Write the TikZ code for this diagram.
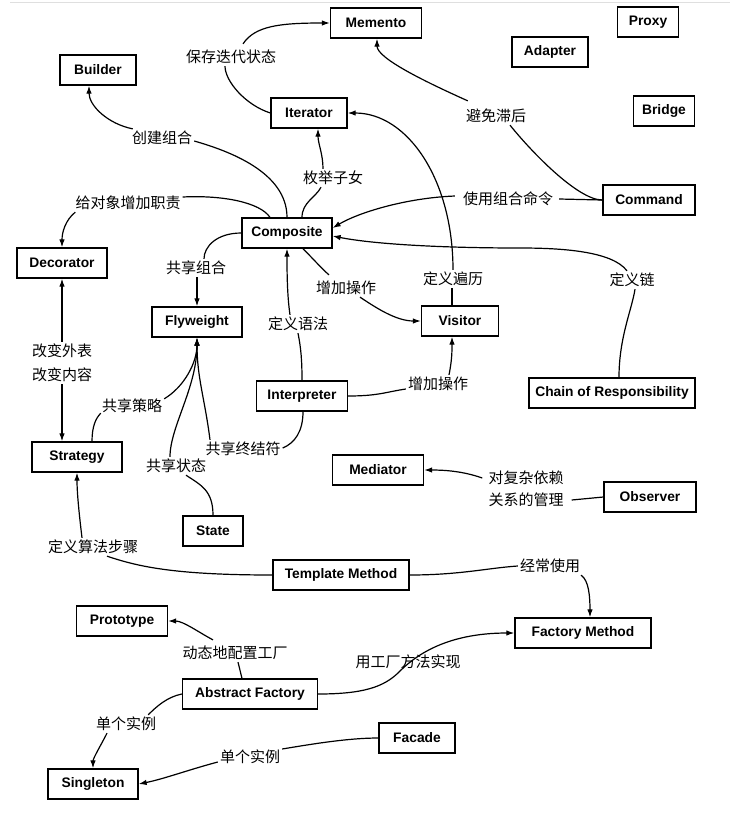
\documentclass[tikz,border=0pt]{standalone}
\usepackage{fontspec}
\setmainfont{Liberation Sans}
\newfontfamily\cjk{Noto Sans CJK SC}
\usetikzlibrary{arrows.meta}
\begin{document}
\begin{tikzpicture}[x=1pt,y=-1pt,
  box/.style={draw, line width=1.3pt, minimum height=30pt, inner sep=0pt, font=\fontsize{13.8}{16}\selectfont\bfseries},
  lab/.style={font=\cjk\fontsize{15}{18}\selectfont, inner sep=2pt},
  conn/.style={line width=1.2pt},
  arr/.style={conn, -{Latex[length=8pt,width=5.5pt]}},
  rarr/.style={conn, {Latex[length=8pt,width=5.5pt]}-},
]
\useasboundingbox (0,0) rectangle (744,820);
\fill[white] (0,0) rectangle (744,820);
\draw[gray!25, line width=1pt] (10,2) -- (730,2);

% boxes
\node[box, minimum width=91pt] (memento) at (376,23) {Memento};
\node[box, minimum width=61pt] (proxy) at (648,22) {Proxy};
\node[box, minimum width=76pt] (adapter) at (550,52) {Adapter};
\node[box, minimum width=76pt] (builder) at (98,70) {Builder};
\node[box, minimum width=76pt] (iterator) at (309,113) {Iterator};
\node[box, minimum width=61pt] (bridge) at (664,111) {Bridge};
\node[box, minimum width=92pt] (command) at (649,200) {Command};
\node[box, minimum width=90pt] (composite) at (287,233) {Composite};
\node[box, minimum width=90pt] (decorator) at (62,263) {Decorator};
\node[box, minimum width=90pt] (flyweight) at (197,322) {Flyweight};
\node[box, minimum width=77pt] (visitor) at (460,321) {Visitor};
\node[box, minimum width=91pt] (interp) at (302,396) {Interpreter};
\node[box, minimum width=166pt] (chain) at (612,393) {Chain of Responsibility};
\node[box, minimum width=90pt] (strategy) at (77,457) {Strategy};
\node[box, minimum width=91pt] (mediator) at (378,470) {Mediator};
\node[box, minimum width=92pt] (observer) at (650,497) {Observer};
\node[box, minimum width=60pt] (state) at (213,531) {State};
\node[box, minimum width=136pt] (template) at (341,575) {Template Method};
\node[box, minimum width=136pt] (factory) at (583,633) {Factory Method};
\node[box, minimum width=91pt] (prototype) at (122,621) {Prototype};
\node[box, minimum width=135pt] (abstract) at (250,694) {Abstract Factory};
\node[box, minimum width=76pt] (facade) at (417,738) {Facade};
\node[box, minimum width=90pt] (singleton) at (93,784) {Singleton};

% labels
\node[lab] (Lsave) at (231,57) {保存迭代状态};
\node[lab] (Lbuild) at (162,138) {创建组合};
\node[lab] (Lenum) at (333,178) {枚举子女};
\node[lab] (Ldeco) at (128,203) {给对象增加职责};
\node[lab] (Lshare) at (196,268) {共享组合};
\node[lab] (Lavoid) at (496,116) {避免滞后};
\node[lab] (Luse) at (508,199) {使用组合命令};
\node[lab] (Ltrav) at (453,279) {定义遍历};
\node[lab] (Lchain) at (632,280) {定义链};
\node[lab] (Ladd1) at (346,288) {增加操作};
\node[lab] (Lgram) at (298,324) {定义语法};
\node[lab] (Ladd2) at (438,384) {增加操作};
\node[lab] (Lchg1) at (62,351) {改变外表};
\node[lab] (Lchg2) at (62,375) {改变内容};
\node[lab] (Lstrat) at (132,406) {共享策略};
\node[lab] (Lterm) at (243,449) {共享终结符};
\node[lab] (Lstate) at (176,466) {共享状态};
\node[lab] (Lalg) at (93,547) {定义算法步骤};
\node[lab] (Lobs1) at (526,478) {对复杂依赖};
\node[lab] (Lobs2) at (526,500) {关系的管理};
\node[lab] (Loften) at (550,566) {经常使用};
\node[lab] (Lproto) at (235,653) {动态地配置工厂};
\node[lab] (Lfm) at (408,662) {用工厂方法实现};
\node[lab] (Lsing1) at (126,724) {单个实例};
\node[lab] (Lsing2) at (250,757) {单个实例};

\coordinate (chmid) at (520,248);
\coordinate (afmid) at (399,672);

% connectors
\draw[conn] (iterator.west) .. controls +(-25,-8) and +(0,15) .. ([xshift=-6pt]Lsave.south);
\draw[arr] ([xshift=12pt,yshift=4pt]Lsave.north) .. controls +(12,-18) and +(-50,0) .. (memento.west);

\draw[conn] (composite.north) .. controls +(0,-45) and +(35,10) .. ([yshift=-3pt]Lbuild.east);
\draw[arr] ([xshift=3pt]Lbuild.north west) .. controls +(-25,-5) and +(0,20) .. ([xshift=-9pt]builder.south);

\draw[conn] ([xshift=15pt]composite.north) .. controls +(0,-15) and +(-5,10) .. ([xshift=-12pt]Lenum.south);
\draw[arr] ([xshift=-10pt]Lenum.north) .. controls +(0,-15) and +(0,15) .. ([xshift=9pt]iterator.south);

\draw[conn] ([xshift=-17pt]composite.north) .. controls +(-10,-15) and +(40,-2) .. ([yshift=6pt]Ldeco.east);
\draw[arr] ([xshift=2pt]Ldeco.south west) .. controls +(-10,8) and +(0,-15) .. (decorator.north);

\draw[conn] (composite.west) .. controls +(-25,0) and +(0,-12) .. ([xshift=8pt]Lshare.north);
\draw[arr] ([xshift=1pt]Lshare.south) -- (flyweight.north);

\draw[conn] (command.west) .. controls +(-25,0) and +(20,25) .. ([xshift=14pt]Lavoid.south);
\draw[arr] ([xshift=4pt,yshift=6pt]Lavoid.north west) .. controls +(-40,-18) and +(0,20) .. ([xshift=1pt]memento.south);

\draw[conn] (command.west) -- ([xshift=4pt]Luse.east);
\draw[arr] ([xshift=-6pt,yshift=3pt]Luse.west) .. controls +(-50,2) and +(25,-15) .. ([yshift=5pt]composite.east);

\draw[conn] ([xshift=-8pt]visitor.north) -- ([xshift=-1pt]Ltrav.south);
\draw[arr] (Ltrav.north) .. controls +(0,-90) and +(60,0) .. (iterator.east);

\draw[conn] ([xshift=7pt]chain.north) .. controls +(0,-40) and +(-3,20) .. ([xshift=3pt]Lchain.south);
\draw[arr] ([xshift=-5pt]Lchain.north) .. controls +(-15,-20) and +(40,0) .. (chmid) .. controls +(-80,0) and +(40,8) .. ([yshift=-3pt]composite.east);

\draw[conn] ([xshift=16pt]composite.south) .. controls +(8,8) and +(-6,-5) .. ([xshift=-17pt,yshift=4pt]Ladd1.north);
\draw[arr] ([xshift=14pt]Ladd1.south) .. controls +(15,10) and +(-25,0) .. (visitor.west);

\draw[conn] (interp.north) .. controls +(0,-20) and +(3,15) .. (Lgram.south);
\draw[arr] ([xshift=-8pt]Lgram.north) .. controls +(-3,-20) and +(0,20) .. (composite.south);

\draw[conn] (interp.east) .. controls +(30,0) and +(-20,3) .. ([yshift=-5pt]Ladd2.west);
\draw[arr] ([xshift=11pt]Ladd2.north) .. controls +(3,-15) and +(0,15) .. ([xshift=-8pt]visitor.south);

\draw[conn] ([xshift=1pt]interp.south) .. controls +(0,20) and +(12,-5) .. ([yshift=1pt]Lterm.east);
\draw[arr] ([xshift=-33pt]Lterm.north) .. controls +(-5,-40) and +(0,40) .. (flyweight.south);

\draw[rarr] (decorator.south) -- (Lchg1.north);
\draw[arr] (Lchg2.south) -- ([xshift=-15pt]strategy.north);

\draw[conn] ([xshift=15pt]strategy.north) .. controls +(0,-15) and +(-5,5) .. ([xshift=1pt,yshift=2pt]Lstrat.south west);
\draw[arr] ([yshift=-2pt]Lstrat.north east) .. controls +(20,-12) and +(0,25) .. (flyweight.south);

\draw[conn] (state.north) .. controls +(0,-25) and +(15,10) .. ([xshift=10pt]Lstate.south);
\draw[arr] ([xshift=-6pt]Lstate.north) .. controls +(0,-30) and +(0,50) .. (flyweight.south);

\draw[conn] (template.west) .. controls +(-100,0) and +(30,10) .. ([xshift=14pt]Lalg.south);
\draw[arr] ([xshift=-11pt]Lalg.north) .. controls +(-3,-25) and +(0,20) .. (strategy.south);

\draw[conn] (observer.west) -- ([xshift=6pt]Lobs2.east);
\draw[arr] ([xshift=-4pt]Lobs1.west) .. controls +(-20,-7) and +(20,0) .. (mediator.east);

\draw[conn] (template.east) .. controls +(50,0) and +(-30,2) .. (Loften.west);
\draw[arr] ([xshift=31pt]Loften.south) .. controls +(8,5) and +(0,-20) .. ([xshift=7pt]factory.north);

\draw[conn] ([xshift=-8pt]abstract.north) -- ([xshift=3pt]Lproto.south);
\draw[arr] ([xshift=-22pt,yshift=4pt]Lproto.north) .. controls +(-15,-8) and +(15,0) .. (prototype.east);

\draw[arr] (abstract.east) .. controls +(45,0) and +(-15,15) .. (afmid) .. controls +(15,-15) and +(-70,0) .. (factory.west);

\draw[conn] (abstract.west) .. controls +(-15,3) and +(8,-8) .. ([xshift=-10pt]Lsing1.north east);
\draw[arr] ([xshift=-19pt]Lsing1.south) .. controls +(-5,10) and +(0,-10) .. (singleton.north);

\draw[conn] (facade.west) .. controls +(-30,0) and +(30,-5) .. ([yshift=8pt]Lsing2.east);
\draw[arr] ([yshift=-5pt]Lsing2.west) .. controls +(-30,8) and +(25,-5) .. (singleton.east);
\end{tikzpicture}
\end{document}
